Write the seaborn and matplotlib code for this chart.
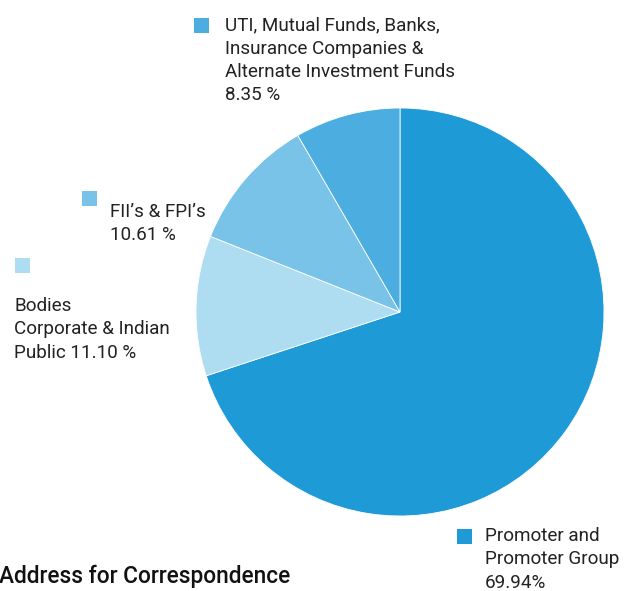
import matplotlib.pyplot as plt
import seaborn as sns
from matplotlib.patches import Rectangle

# Shareholding pattern data (clockwise from 12 o'clock)
categories = ['Promoter and Promoter Group',
              'Bodies Corporate & Indian Public',
              "FII's & FPI's",
              'UTI, Mutual Funds, Banks, Insurance Companies & Alternate Investment Funds']
shares = [69.94, 11.10, 10.61, 8.35]
colors = ['#1e9bd7', '#aedcf1', '#79c2e8', '#4caee0']

# label lines as printed next to each square
label_lines = [
    ['Promoter and', 'Promoter Group', '69.94%'],
    ['Bodies', 'Corporate & Indian', 'Public 11.10 %'],
    ["FII\u2019s & FPI\u2019s", '10.61 %'],
    ['UTI, Mutual Funds, Banks,', 'Insurance Companies &', 'Alternate Investment Funds', '8.35 %'],
]

sns.set_theme(style='white')
plt.rcParams['font.family'] = ['Roboto', 'DejaVu Sans']

W, H = 624, 591
fig = plt.figure(figsize=(W / 100, H / 100), dpi=100)

# pie axes: centre (400, 312), radius 204 px
cx, cy, r = 400, 312, 204
ax = fig.add_axes([(cx - r) / W, (H - cy - r) / H, 2 * r / W, 2 * r / H])
ax.pie(shares, colors=colors, startangle=90, counterclock=False, radius=1,
       wedgeprops=dict(linewidth=0.6, edgecolor='white'))
ax.set_aspect('equal')
ax.set_xlim(-1, 1)
ax.set_ylim(-1, 1)
ax.axis('off')

def fx(x):
    return x / W

def fy(y):
    return 1 - y / H

# (square x, square y, text x, first baseline y) in pixels
label_pos = [
    (457, 529, 485, 541),
    (15, 258, 14, 311),
    (82, 191, 110, 217),
    (194, 18, 225, 30),
]
line_gap = 23.5
sq = 15

for lines, color, (sx, sy, tx, ty) in zip(label_lines, colors, label_pos):
    fig.add_artist(Rectangle((fx(sx), fy(sy + sq)), sq / W, sq / H,
                             transform=fig.transFigure, color=color, lw=0))
    for i, line in enumerate(lines):
        fig.text(fx(tx), fy(ty + i * line_gap), line, fontsize=13.6,
                 color='#222222', ha='left', va='baseline')

fig.text(fx(-1), fy(583), 'Address for Correspondence', fontsize=16.3,
         color='#111111', ha='left', va='baseline', fontweight='medium')

fig.savefig('out.png', dpi=100)
